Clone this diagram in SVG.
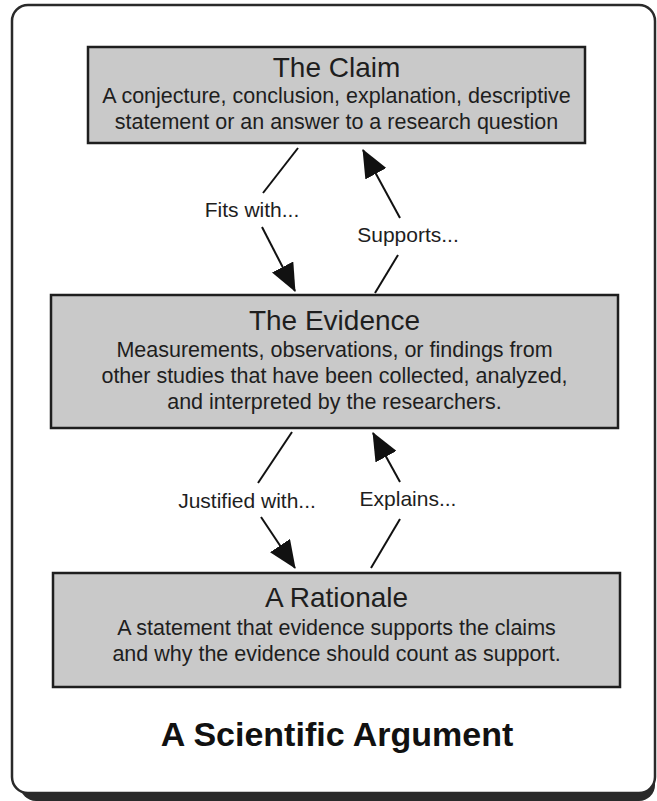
<svg xmlns="http://www.w3.org/2000/svg" width="657" height="801" viewBox="0 0 657 801">
<style>
text{font-family:"Liberation Sans",Arial,sans-serif;fill:#1e1e1e;text-anchor:middle}
.t{font-size:28px}
.b{font-size:21.5px}
.l{font-size:21px}
.h{font-size:34px;font-weight:bold;fill:#111}
.box{fill:#c9c9c9;stroke:#1e1e1e;stroke-width:2.5}
.c{stroke:#111;stroke-width:2;fill:none}
</style>
<defs>
<marker id="ah" viewBox="0 0 28 24" refX="27" refY="12" markerWidth="28" markerHeight="24" markerUnits="userSpaceOnUse" orient="auto">
<path d="M0,0 L28,12 L0,24 Z" fill="#111"/>
</marker>
</defs>
<rect x="20" y="13" width="635" height="788" rx="16" fill="#2a2a2a"/>
<rect x="12" y="5" width="643" height="788" rx="16" fill="#fff" stroke="#2a2a2a" stroke-width="2.5"/>
<g id="claim">
<rect class="box" x="88" y="47" width="497" height="96"/>
<text class="t" x="336.5" y="77">The Claim</text>
<text class="b" x="336.5" y="103">A conjecture, conclusion, explanation, descriptive</text>
<text class="b" x="336.5" y="129">statement or an answer to a research question</text>
</g>
<g id="evidence">
<rect class="box" x="51" y="295" width="567" height="133"/>
<text class="t" x="334.5" y="330">The Evidence</text>
<text class="b" x="334.5" y="357">Measurements, observations, or findings from</text>
<text class="b" x="334.5" y="383">other studies that have been collected, analyzed,</text>
<text class="b" x="334.5" y="409">and interpreted by the researchers.</text>
</g>
<g id="rationale">
<rect class="box" x="53" y="573" width="567" height="114"/>
<text class="t" x="336.5" y="607">A Rationale</text>
<text class="b" x="336.5" y="635">A statement that evidence supports the claims</text>
<text class="b" x="336.5" y="661">and why the evidence should count as support.</text>
</g>
<g id="title">
<text class="h" x="337" y="746">A Scientific Argument</text>
</g>
<g id="connectors">
<line class="c" x1="298" y1="148" x2="263" y2="193"/>
<line class="c" x1="262" y1="227" x2="295" y2="291" marker-end="url(#ah)"/>
<line class="c" x1="400" y1="218" x2="363" y2="150" marker-end="url(#ah)"/>
<line class="c" x1="398" y1="255" x2="375" y2="293"/>
<line class="c" x1="292" y1="432" x2="258" y2="483"/>
<line class="c" x1="261" y1="517" x2="295" y2="568" marker-end="url(#ah)"/>
<line class="c" x1="400" y1="482" x2="373" y2="433" marker-end="url(#ah)"/>
<line class="c" x1="400" y1="519" x2="371" y2="568"/>
<text class="l" x="252" y="217">Fits with...</text>
<text class="l" x="408" y="242">Supports...</text>
<text class="l" x="247" y="508">Justified with...</text>
<text class="l" x="408" y="506">Explains...</text>
</g>
</svg>
